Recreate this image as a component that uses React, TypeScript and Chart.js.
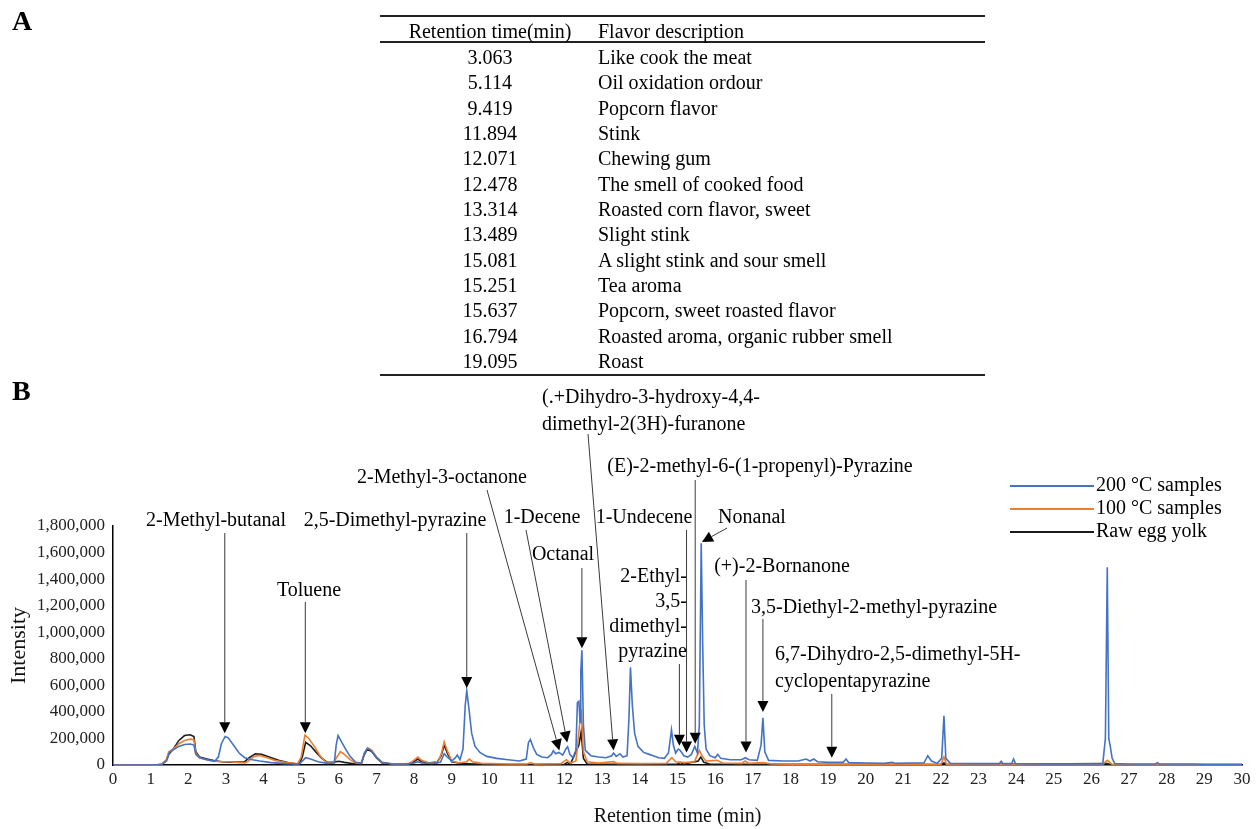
import { useEffect, useRef } from "react";
import { Chart, registerables } from "chart.js";

Chart.register(...registerables);

// ---------- Table (A) ----------
const TABLE_HEADERS = ["Retention time(min)", "Flavor description"];
const TABLE_TIMES = ["3.063", "5.114", "9.419", "11.894", "12.071", "12.478", "13.314", "13.489", "15.081", "15.251", "15.637", "16.794", "19.095"];
const TABLE_FLAVORS = [
  "Like cook the meat",
  "Oil oxidation ordour",
  "Popcorn flavor",
  "Stink",
  "Chewing gum",
  "The smell of cooked food",
  "Roasted corn flavor, sweet",
  "Slight stink",
  "A slight stink and sour smell",
  "Tea aroma",
  "Popcorn, sweet roasted flavor",
  "Roasted aroma, organic rubber smell",
  "Roast",
];

// ---------- Chart (B) ----------
const X_MIN = 0;
const X_MAX = 30;
const X_STEP = 1;
const Y_MIN = 0;
const Y_MAX = 1800000;
const Y_STEP = 200000;
const X_TITLE = "Retention time (min)";
const Y_TITLE = "Intensity";

const SERIES_LABELS = ["200 \u00B0C samples", "100 \u00B0C samples", "Raw egg yolk"];
const SERIES_COLORS = ["#4472C4", "#ED7D31", "#1c1c1c"];

// [retention time (min), intensity]
const RT_200: [number, number][] = [
  [0, 0], [1.1, 0], [1.3, 5000], [1.42, 30000], [1.5, 95000], [1.6, 115000], [1.75, 140000], [1.9, 155000], [2.05, 158000], [2.15, 150000], [2.2, 80000], [2.3, 55000], [2.5, 40000], [2.7, 28000], [2.8, 60000], [2.88, 160000], [2.98, 215000], [3.06, 205000], [3.2, 150000], [3.35, 90000], [3.5, 55000], [3.7, 40000], [3.9, 30000], [4.2, 18000], [4.6, 10000], [4.95, 8000], [5.05, 35000], [5.12, 55000], [5.25, 45000], [5.45, 25000], [5.7, 12000], [5.88, 15000], [5.93, 150000], [5.98, 222000], [6.08, 170000], [6.2, 110000], [6.3, 65000], [6.45, 20000], [6.6, 15000], [6.68, 90000], [6.76, 125000], [6.85, 110000], [7.0, 60000], [7.15, 20000], [7.4, 8000], [7.8, 8000], [8.0, 15000], [8.1, 25000], [8.2, 15000], [8.5, 12000], [8.7, 20000], [8.8, 85000], [8.88, 60000], [9.0, 30000], [9.1, 55000], [9.15, 75000], [9.22, 40000], [9.3, 120000], [9.36, 450000], [9.4, 560000], [9.46, 420000], [9.53, 240000], [9.62, 140000], [9.75, 95000], [9.93, 65000], [10.2, 50000], [10.5, 40000], [10.8, 30000], [10.98, 45000], [11.04, 170000], [11.09, 192000], [11.17, 130000], [11.26, 80000], [11.4, 60000], [11.55, 55000], [11.65, 80000], [11.7, 108000], [11.76, 85000], [11.85, 95000], [11.95, 75000], [12.03, 120000], [12.08, 138000], [12.14, 80000], [12.22, 55000], [12.3, 110000], [12.34, 470000], [12.38, 480000], [12.41, 320000], [12.43, 700000], [12.46, 865000], [12.5, 300000], [12.55, 110000], [12.7, 70000], [12.9, 60000], [13.1, 55000], [13.25, 70000], [13.3, 90000], [13.37, 65000], [13.47, 85000], [13.55, 60000], [13.66, 70000], [13.71, 350000], [13.75, 735000], [13.8, 450000], [13.86, 240000], [13.95, 140000], [14.1, 95000], [14.25, 80000], [14.35, 70000], [14.5, 55000], [14.65, 50000], [14.76, 90000], [14.84, 265000], [14.89, 150000], [14.95, 90000], [15.02, 120000], [15.07, 110000], [15.17, 70000], [15.27, 60000], [15.37, 80000], [15.46, 140000], [15.53, 90000], [15.58, 300000], [15.63, 1670000], [15.67, 900000], [15.71, 300000], [15.76, 120000], [15.86, 70000], [16.0, 55000], [16.07, 80000], [16.15, 50000], [16.4, 40000], [16.7, 40000], [16.8, 55000], [16.9, 40000], [17.12, 35000], [17.22, 150000], [17.27, 355000], [17.32, 100000], [17.42, 35000], [17.8, 30000], [18.2, 30000], [18.42, 45000], [18.52, 30000], [18.62, 45000], [18.72, 25000], [19.0, 20000], [19.4, 20000], [19.48, 45000], [19.55, 18000], [20.0, 15000], [20.5, 12000], [20.7, 20000], [20.8, 12000], [21.2, 15000], [21.55, 15000], [21.65, 70000], [21.75, 30000], [21.9, 12000], [22.02, 50000], [22.08, 370000], [22.13, 50000], [22.25, 12000], [22.8, 10000], [23.55, 10000], [23.6, 28000], [23.65, 10000], [23.88, 10000], [23.93, 45000], [23.98, 10000], [24.5, 8000], [25.0, 8000], [25.5, 8000], [26.3, 8000], [26.37, 200000], [26.42, 1490000], [26.46, 200000], [26.5, 140000], [26.55, 50000], [26.62, 10000], [27.0, 8000], [27.7, 8000], [27.75, 18000], [27.8, 8000], [28.7, 8000], [29, 6000], [29.5, 6000], [30, 5000],
];

const RT_100: [number, number][] = [
  [0, 0], [1.15, 0], [1.3, 8000], [1.42, 40000], [1.48, 100000], [1.6, 120000], [1.75, 160000], [1.9, 185000], [2.05, 195000], [2.15, 190000], [2.2, 90000], [2.3, 55000], [2.5, 38000], [2.7, 28000], [2.9, 25000], [3.1, 25000], [3.3, 20000], [3.5, 15000], [3.6, 30000], [3.75, 65000], [3.9, 72000], [4.1, 55000], [4.3, 35000], [4.6, 18000], [4.9, 8000], [5.0, 60000], [5.1, 225000], [5.2, 200000], [5.35, 140000], [5.5, 70000], [5.65, 25000], [5.85, 15000], [5.95, 60000], [6.04, 100000], [6.15, 80000], [6.3, 40000], [6.45, 15000], [6.6, 12000], [6.68, 90000], [6.77, 130000], [6.88, 110000], [7.0, 60000], [7.15, 18000], [7.5, 8000], [7.85, 10000], [7.95, 25000], [8.1, 60000], [8.2, 35000], [8.4, 15000], [8.55, 25000], [8.62, 15000], [8.72, 80000], [8.8, 175000], [8.88, 110000], [9.0, 30000], [9.2, 15000], [9.4, 25000], [9.47, 45000], [9.55, 25000], [9.8, 12000], [10.5, 8000], [11.0, 8000], [11.1, 18000], [11.2, 8000], [11.9, 10000], [12.05, 40000], [12.15, 15000], [12.3, 30000], [12.38, 250000], [12.44, 420000], [12.5, 100000], [12.6, 25000], [12.9, 15000], [13.3, 25000], [13.4, 12000], [14.0, 10000], [14.7, 12000], [14.85, 55000], [14.95, 25000], [15.2, 18000], [15.45, 25000], [15.58, 110000], [15.65, 70000], [15.75, 30000], [16.05, 35000], [16.2, 15000], [16.7, 12000], [16.8, 30000], [16.9, 12000], [17.27, 18000], [17.5, 8000], [18, 6000], [19, 5000], [21, 5000], [22.0, 5000], [22.08, 60000], [22.15, 5000], [26.3, 5000], [26.42, 35000], [26.55, 5000], [30, 3000],
];

const RT_RAW: [number, number][] = [
  [0, 0], [1.15, 0], [1.3, 5000], [1.42, 35000], [1.48, 80000], [1.6, 120000], [1.75, 185000], [1.9, 222000], [2.05, 228000], [2.15, 215000], [2.2, 100000], [2.3, 60000], [2.5, 45000], [2.7, 32000], [2.9, 25000], [3.1, 22000], [3.3, 22000], [3.5, 25000], [3.62, 55000], [3.78, 85000], [3.95, 80000], [4.15, 60000], [4.4, 35000], [4.7, 15000], [4.95, 8000], [5.03, 60000], [5.12, 170000], [5.25, 145000], [5.4, 95000], [5.55, 50000], [5.7, 20000], [5.85, 22000], [6.0, 28000], [6.15, 20000], [6.4, 10000], [6.6, 10000], [6.68, 80000], [6.76, 120000], [6.88, 100000], [7.0, 55000], [7.15, 15000], [7.5, 6000], [7.9, 8000], [8.1, 45000], [8.2, 25000], [8.45, 12000], [8.6, 15000], [8.72, 70000], [8.8, 150000], [8.9, 80000], [9.0, 25000], [9.3, 10000], [9.6, 8000], [10, 5000], [11, 4000], [12.0, 6000], [12.07, 20000], [12.15, 5000], [12.38, 150000], [12.44, 250000], [12.5, 50000], [12.6, 8000], [14, 5000], [15.0, 8000], [15.08, 20000], [15.15, 6000], [15.55, 30000], [15.62, 60000], [15.7, 20000], [15.85, 8000], [17, 5000], [22.0, 3000], [22.08, 15000], [22.15, 3000], [26.42, 10000], [26.5, 3000], [30, 2000],
];

// Peak annotations: names, and the (time, intensity) where each arrow points
const PEAK_NAMES: string[][] = [
  ["2-Methyl-butanal"],
  ["Toluene"],
  ["2,5-Dimethyl-pyrazine"],
  ["2-Methyl-3-octanone"],
  ["1-Decene"],
  ["Octanal"],
  ["(.+Dihydro-3-hydroxy-4,4-", "dimethyl-2(3H)-furanone"],
  ["2-Ethyl-", "3,5-", "dimethyl-", "pyrazine"],
  ["1-Undecene"],
  ["(E)-2-methyl-6-(1-propenyl)-Pyrazine"],
  ["Nonanal"],
  ["(+)-2-Bornanone"],
  ["3,5-Diethyl-2-methyl-pyrazine"],
  ["6,7-Dihydro-2,5-dimethyl-5H-", "cyclopentapyrazine"],
];
const PEAK_TIMES = [2.97, 5.11, 9.4, 11.86, 12.07, 12.46, 13.3, 15.05, 15.24, 15.47, 15.65, 16.82, 17.27, 19.1];
const PEAK_LEVELS = [240000, 240000, 580000, 110000, 170000, 880000, 110000, 145000, 95000, 160000, 1680000, 95000, 400000, 55000];

// Layout of annotation labels (canvas pixels). lx/ly = start of leader line (lx null => vertical)
type LabelLayout = { x: number; y: number; gap: number; align: CanvasTextAlign; lx: number | null; ly: number };
const LABEL_LAYOUT: LabelLayout[] = [
  { x: 216, y: 521, gap: 0, align: "center", lx: null, ly: 533 },
  { x: 309, y: 591, gap: 0, align: "center", lx: null, ly: 602 },
  { x: 395, y: 521, gap: 0, align: "center", lx: null, ly: 533 },
  { x: 442, y: 478, gap: 0, align: "center", lx: 487, ly: 490 },
  { x: 542, y: 518, gap: 0, align: "center", lx: 526, ly: 530 },
  { x: 563, y: 555, gap: 0, align: "center", lx: null, ly: 568 },
  { x: 542, y: 398, gap: 27, align: "left", lx: 588, ly: 434 },
  { x: 687, y: 577, gap: 25, align: "right", lx: null, ly: 664 },
  { x: 644, y: 518, gap: 0, align: "center", lx: null, ly: 530 },
  { x: 760, y: 467, gap: 0, align: "center", lx: null, ly: 480 },
  { x: 752, y: 518, gap: 0, align: "center", lx: 727, ly: 528 },
  { x: 782, y: 567, gap: 0, align: "center", lx: null, ly: 580 },
  { x: 874, y: 608, gap: 0, align: "center", lx: null, ly: 619 },
  { x: 775, y: 655, gap: 27, align: "left", lx: null, ly: 694 },
];

const FONT = '"Liberation Serif", "Times New Roman", serif';

const peakLabelPlugin = {
  id: "peakLabels",
  afterDatasetsDraw(chart: any) {
    const ctx: CanvasRenderingContext2D = chart.ctx;
    const xs = chart.scales.x;
    const ys = chart.scales.y;
    ctx.save();
    ctx.font = `20px ${FONT}`;
    ctx.textBaseline = "middle";
    PEAK_NAMES.forEach((lines, k) => {
      const L = LABEL_LAYOUT[k];
      ctx.fillStyle = "#000";
      ctx.textAlign = L.align;
      lines.forEach((s, j) => ctx.fillText(s, L.x, L.y + j * L.gap));
      const tx = xs.getPixelForValue(PEAK_TIMES[k]);
      const ty = ys.getPixelForValue(PEAK_LEVELS[k]);
      const sx = L.lx === null ? tx : L.lx;
      const sy = L.ly;
      const dx = tx - sx;
      const dy = ty - sy;
      const len = Math.hypot(dx, dy) || 1;
      const ux = dx / len;
      const uy = dy / len;
      const head = 11;
      const half = 5.5;
      const bx = tx - ux * head;
      const by = ty - uy * head;
      ctx.strokeStyle = "#3a3a3a";
      ctx.lineWidth = 1;
      ctx.beginPath();
      ctx.moveTo(sx, sy);
      ctx.lineTo(bx, by);
      ctx.stroke();
      ctx.fillStyle = "#000";
      ctx.beginPath();
      ctx.moveTo(tx, ty);
      ctx.lineTo(bx - uy * half, by + ux * half);
      ctx.lineTo(bx + uy * half, by - ux * half);
      ctx.closePath();
      ctx.fill();
    });

    // legend (top right)
    const rows = [486, 509, 532];
    chart.data.datasets.forEach((ds: any, i: number) => {
      const y = rows[i];
      ctx.strokeStyle = ds.borderColor;
      ctx.lineWidth = 2;
      ctx.beginPath();
      ctx.moveTo(1010, y);
      ctx.lineTo(1094, y);
      ctx.stroke();
      ctx.fillStyle = "#000";
      ctx.textAlign = "left";
      ctx.fillText(ds.label, 1096, y);
    });
    ctx.restore();
  },
};

function toPoints(arr: [number, number][]) {
  return arr.map(([x, y]) => ({ x, y }));
}

export default function App() {
  const canvasRef = useRef<HTMLCanvasElement | null>(null);

  useEffect(() => {
    document.body.style.margin = "0";
    const canvas = canvasRef.current;
    if (!canvas) return;
    const series = [RT_200, RT_100, RT_RAW];
    const chart = new Chart(canvas, {
      type: "line",
      data: {
        datasets: series.map((s, i) => ({
          label: SERIES_LABELS[i],
          data: toPoints(s),
          borderColor: SERIES_COLORS[i],
          backgroundColor: SERIES_COLORS[i],
          borderWidth: 1.6,
          pointRadius: 0,
          tension: 0,
          fill: false,
        })),
      },
      options: {
        animation: false,
        responsive: false,
        maintainAspectRatio: false,
        devicePixelRatio: 1,
        parsing: false as any,
        normalized: true,
        layout: { padding: { left: 0, right: 18, top: 526, bottom: 0 } },
        plugins: {
          legend: { display: false },
          tooltip: { enabled: false },
          title: { display: false },
        },
        scales: {
          x: {
            type: "linear",
            min: X_MIN,
            max: X_MAX,
            grid: { display: false, drawTicks: false },
            border: { display: true, color: "#000", width: 1.5 },
            ticks: {
              stepSize: X_STEP,
              autoSkip: false,
              maxRotation: 0,
              padding: 4,
              color: "#222",
              font: { family: FONT, size: 17 },
            },
            title: {
              display: true,
              text: X_TITLE,
              color: "#111",
              font: { family: FONT, size: 20 },
              padding: { top: 0, bottom: 0 },
            },
            afterFit: (axis: any) => {
              axis.height = 64;
            },
          },
          y: {
            type: "linear",
            min: Y_MIN,
            max: Y_MAX,
            grid: { display: false, drawTicks: false },
            border: { display: true, color: "#000", width: 1.5 },
            ticks: {
              stepSize: Y_STEP,
              padding: 8,
              color: "#222",
              font: { family: FONT, size: 17 },
              callback: (v: any) => Number(v).toLocaleString("en-US"),
            },
            title: {
              display: true,
              text: Y_TITLE,
              color: "#111",
              font: { family: FONT, size: 22 },
              padding: { top: 6, bottom: 0 },
            },
            afterFit: (axis: any) => {
              axis.width = 113;
            },
          },
        },
      },
      plugins: [peakLabelPlugin],
    });
    return () => chart.destroy();
  }, []);

  const rowY = (i: number) => 57 + i * 25.33;
  const cell = (top: number): React.CSSProperties => ({
    position: "absolute",
    top: top - 13,
    height: 26,
    lineHeight: "26px",
    whiteSpace: "nowrap",
  });

  return (
    <div style={{ position: "absolute", left: 0, top: 0, width: 1260, height: 829, background: "#fff", fontFamily: FONT, color: "#000" }}>
      <canvas ref={canvasRef} width={1260} height={829} style={{ position: "absolute", left: 0, top: 0, width: 1260, height: 829 }} />
      <div style={{ position: "absolute", left: 12, top: 5, fontSize: 28, fontWeight: "bold" }}>A</div>
      <div style={{ position: "absolute", left: 12, top: 375, fontSize: 28, fontWeight: "bold" }}>B</div>
      <div style={{ position: "absolute", left: 380, top: 15, width: 605, height: 2, background: "#222" }} />
      <div style={{ position: "absolute", left: 380, top: 41, width: 605, height: 2, background: "#222" }} />
      <div style={{ position: "absolute", left: 380, top: 374, width: 605, height: 2, background: "#222" }} />
      <div style={{ ...cell(31), left: 390, width: 200, textAlign: "center", fontSize: 20 }}>{TABLE_HEADERS[0]}</div>
      <div style={{ ...cell(31), left: 598, fontSize: 20 }}>{TABLE_HEADERS[1]}</div>
      {TABLE_TIMES.map((t, i) => (
        <div key={"t" + i} style={{ ...cell(rowY(i)), left: 390, width: 200, textAlign: "center", fontSize: 20 }}>{t}</div>
      ))}
      {TABLE_FLAVORS.map((f, i) => (
        <div key={"f" + i} style={{ ...cell(rowY(i)), left: 598, fontSize: 20 }}>{f}</div>
      ))}
    </div>
  );
}
